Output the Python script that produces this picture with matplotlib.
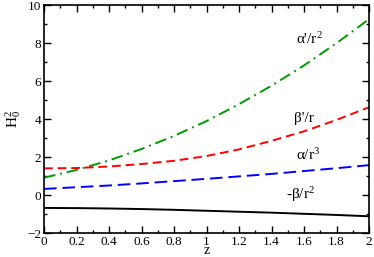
import matplotlib
matplotlib.use("Agg")
import matplotlib.pyplot as plt
from matplotlib.ticker import MultipleLocator

z = [0.0, 0.2, 0.4, 0.6, 0.8, 1.0, 1.2, 1.4, 1.6, 1.8, 2.0]
alpha_p_r2 = [0.91, 1.32, 1.82, 2.42, 3.11, 3.89, 4.78, 5.75, 6.82, 7.99, 9.25]
beta_p_r = [1.40, 1.42, 1.50, 1.63, 1.80, 2.05, 2.40, 2.85, 3.35, 3.95, 4.62]
alpha_r3 = [0.32, 0.41, 0.50, 0.61, 0.73, 0.85, 0.98, 1.11, 1.26, 1.41, 1.57]
mbeta_r2 = [-0.68, -0.69, -0.71, -0.74, -0.78, -0.83, -0.88, -0.93, -0.99, -1.05, -1.12]

x_ticks = [0, 0.2, 0.4, 0.6, 0.8, 1, 1.2, 1.4, 1.6, 1.8, 2]
x_ticklabels = ["0", "0.2", "0.4", "0.6", "0.8", "1", "1.2", "1.4", "1.6", "1.8", "2"]
y_ticks = [-2, 0, 2, 4, 6, 8, 10]

labels = ["\u03b1'/r$^2$", "\u03b2'/r", "\u03b1/r$^3$", "-\u03b2/r$^2$"]
label_pos = [(1.55, 8.2), (1.54, 4.05), (1.55, 2.1), (1.49, 0.05)]

plt.rcParams['font.family'] = ['Liberation Serif', 'DejaVu Serif']
plt.rcParams['mathtext.fontset'] = 'custom'
plt.rcParams['mathtext.rm'] = 'Liberation Serif'
plt.rcParams['mathtext.it'] = 'Liberation Serif'

fig = plt.figure(figsize=(3.74, 2.57), dpi=100)
ax = fig.add_axes([44/374, 1 - 233/257, (369-44)/374, (233-5)/257])

ax.plot(z, alpha_p_r2, color='#009900', lw=1.4, dashes=(6, 2.5, 1, 2.5))
ax.plot(z, beta_p_r, color='#ff0000', lw=1.4, dashes=(4.5, 2.5))
ax.plot(z, alpha_r3, color='#0000ff', lw=1.4, dashes=(6.5, 3))
ax.plot(z, mbeta_r2, color='#000000', lw=1.4)

for t, (x, y) in zip(labels, label_pos):
    ax.text(x, y, t, fontsize=11, va='center', ha='left')

ax.set_xticks(x_ticks)
ax.set_xticklabels(x_ticklabels)
ax.set_yticks(y_ticks)
ax.xaxis.set_minor_locator(MultipleLocator(0.1))
ax.yaxis.set_minor_locator(MultipleLocator(1))
ax.set_xlim(0, 2)
ax.set_ylim(-2, 10)
ax.tick_params(which='both', direction='in', top=True, right=True, labelsize=9.5, width=1)
ax.tick_params(which='major', length=5, pad=2)
ax.tick_params(which='minor', length=2.5)
for s in ax.spines.values():
    s.set_linewidth(1.2)

ax.set_xlabel('z', fontsize=10)
ax.xaxis.set_label_coords(0.5, -0.05)
ax.set_ylabel('H$_0^2$', fontsize=11, labelpad=3)

fig.savefig('out.png', dpi=100)
